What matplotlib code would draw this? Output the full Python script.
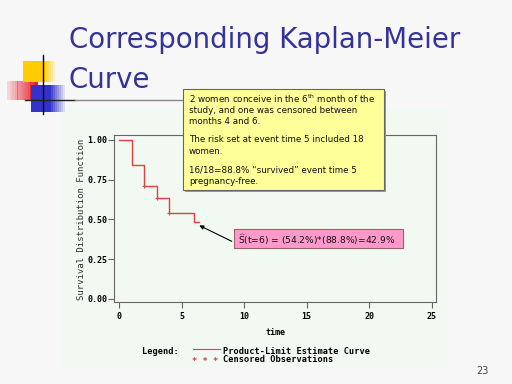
import matplotlib.pyplot as plt
import numpy as np
from matplotlib.patches import Rectangle

# Kaplan-Meier step values
times = [0, 1, 2, 3, 4, 6]
surv = [1.0, 0.842, 0.711, 0.632, 0.542, 0.482]
t_end = 6.4
cens_t = [2, 3, 4]
cens_s = [0.711, 0.632, 0.542]
xticks = [0, 5, 10, 15, 20, 25]
yticks = [0.0, 0.25, 0.5, 0.75, 1.0]

W, H = 512, 384
RED = '#e0403f'
BLUE = '#333399'


def fx(x):
    return x / W


def fy(y):
    return 1 - y / H


fig = plt.figure(figsize=(5.12, 3.84), dpi=100)
fig.patch.set_facecolor('#f7f7f7')

# SAS graph backdrop
fig.patches.append(Rectangle((fx(62), fy(368)), fx(386), 260 / H,
                             transform=fig.transFigure, facecolor='#f2f8f2',
                             edgecolor='none', zorder=-1))

# slide logo
for i in range(12):
    fig.patches.append(Rectangle((fx(7 + i * 31 / 12), fy(100)), fx(31 / 12 + 0.3), 19 / H,
                                 transform=fig.transFigure, facecolor='#e8202a',
                                 alpha=0.15 + 0.85 * (i / 11), edgecolor='none', zorder=1))
fig.patches.append(Rectangle((fx(23), fy(82)), fx(20), 21 / H, transform=fig.transFigure,
                             facecolor='#ffcc00', edgecolor='none', zorder=1))
for i in range(6):
    fig.patches.append(Rectangle((fx(43 + i * 2), fy(82)), fx(2.2), 21 / H, transform=fig.transFigure,
                                 facecolor='#ffcc00', alpha=1 - i / 6, edgecolor='none', zorder=1))
fig.patches.append(Rectangle((fx(31), fy(112)), fx(18), 27 / H, transform=fig.transFigure,
                             facecolor='#3333cc', edgecolor='none', zorder=2))
for i in range(8):
    fig.patches.append(Rectangle((fx(49 + i * 2), fy(112)), fx(2.2), 27 / H, transform=fig.transFigure,
                                 facecolor='#3333cc', alpha=1 - i / 8, edgecolor='none', zorder=2))
fig.add_artist(plt.Line2D([fx(43), fx(43)], [fy(55), fy(114)], color='black', lw=1, zorder=3))
fig.add_artist(plt.Line2D([fx(25), fx(75)], [fy(100), fy(100)], color='#222222', lw=1, zorder=3))
fig.add_artist(plt.Line2D([fx(75), fx(190)], [fy(100), fy(100)], color='#888888', lw=1, zorder=3))

# title
fig.text(fx(69), fy(48), 'Corresponding Kaplan-Meier', color=BLUE, fontsize=19.9,
         family='DejaVu Sans', va='baseline', ha='left')
fig.text(fx(69), fy(88), 'Curve', color=BLUE, fontsize=19.9,
         family='DejaVu Sans', va='baseline', ha='left')

# plot
ax = fig.add_axes([fx(114.3), fy(302), fx(436 - 114.3), (302 - 135) / H])
ax.set_zorder(2)
ax.set_facecolor('#f2f8f2')
ax.step(times + [t_end], surv + [surv[-1]], where='post', color=RED, lw=1)
ax.plot(cens_t, cens_s, '+', color=RED, ms=3, mew=0.8)
ax.set_xlim(-0.4, 25.35)
ax.set_ylim(-0.019, 1.031)
ax.set_xticks(xticks)
ax.set_yticks(yticks)
ax.set_yticklabels(['%.2f' % v for v in yticks])
for s in ax.spines.values():
    s.set_color('#666666')
    s.set_linewidth(0.8)
ax.tick_params(direction='out', length=4, width=0.8, color='#666666', labelsize=6, pad=1)
ax.tick_params(axis='x', pad=3.5)
for lab in ax.get_xticklabels() + ax.get_yticklabels():
    lab.set_family('DejaVu Sans Mono')
    lab.set_weight('bold')
ax.set_xlabel('time', family='DejaVu Sans Mono', fontsize=6, weight='bold', labelpad=5)

fig.text(fx(81), fy(219), 'Survival Distribution Function',
         rotation=90, family='DejaVu Sans Mono', fontsize=6.5, va='center', ha='center',
         color='#333333')

# legend
mono = dict(family='DejaVu Sans Mono', fontsize=6.2, weight='bold', va='center')
fig.text(fx(142), fy(352), 'Legend:', **mono)
fig.add_artist(plt.Line2D([fx(193), fx(220)], [fy(349), fy(349)], color=RED, lw=0.8))
fig.text(fx(223), fy(352), 'Product-Limit Estimate Curve', **mono)
fig.text(fx(192), fy(361), '* * *', color=RED, family='DejaVu Sans Mono', fontsize=6.2,
         weight='bold', va='center')
fig.text(fx(223), fy(360), 'Censored Observations', **mono)

# yellow call-out
fig.patches.append(Rectangle((fx(185), fy(192)), fx(201), 101 / H, transform=fig.transFigure,
                             facecolor='#999999', edgecolor='none', zorder=4))
fig.patches.append(Rectangle((fx(183), fy(190)), fx(201), 101 / H, transform=fig.transFigure,
                             facecolor='#ffff99', edgecolor='#666666', lw=0.8, zorder=5))
note = dict(family='DejaVu Sans', fontsize=6.3, va='center', ha='left', zorder=6, color='#111111')
fig.text(fx(189), fy(99), r'2 women conceive in the 6$^{\rm th}$ month of the', **note)
fig.text(fx(189), fy(110.5), 'study, and one was censored between', **note)
fig.text(fx(189), fy(122), 'months 4 and 6.', **note)
fig.text(fx(189), fy(140), 'The risk set at event time 5 included 18', **note)
fig.text(fx(189), fy(152), 'women.', **note)
fig.text(fx(189), fy(170), '16/18=88.8% \u201csurvived\u201d event time 5', **note)
fig.text(fx(189), fy(182), 'pregnancy-free.', **note)

# pink call-out with arrow
fig.patches.append(Rectangle((fx(234), fy(248)), fx(169), 19 / H, transform=fig.transFigure,
                             facecolor='#ff99cc', edgecolor='#996666', lw=0.8, zorder=5))
fig.text(fx(238), fy(240), r'$\widehat{\rm S}$(t=6) = (54.2%)*(88.8%)=42.9%', zorder=6,
         family='DejaVu Sans', fontsize=6.6, va='center', ha='left', color='#111111')
ax.annotate('', xy=(6.2, 0.47), xytext=(9.2, 0.355),
            arrowprops=dict(arrowstyle='-|>', color='black', lw=0.8, mutation_scale=6))

fig.text(fx(476), fy(371), '23', color='#444444', fontsize=7, family='DejaVu Sans',
         va='center', ha='left')

fig.savefig('out.png', dpi=100, facecolor=fig.get_facecolor())
